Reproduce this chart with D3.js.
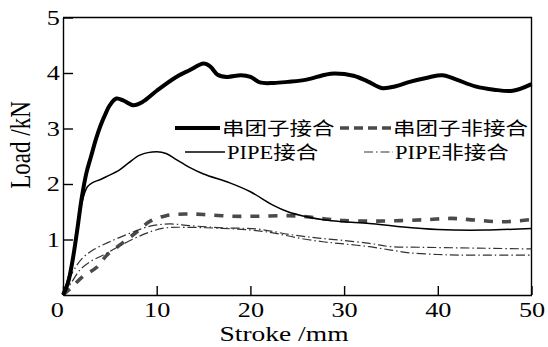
<!DOCTYPE html>
<html>
<head>
<meta charset="utf-8">
<script src="https://cdn.jsdelivr.net/npm/d3@7"></script>
<style>
  body { margin: 0; background: #fff; }
  svg text { font-family: "Liberation Serif", "Times New Roman", Times, "Noto Sans CJK SC", serif; fill: #000; }
</style>
</head>
<body>
<div id="chart"></div>
<script>
const WIDTH = 548, HEIGHT = 347;
const MARGINS = {top: 17.5, right: 16, bottom: 52, left: 63};
const STRETCH = 1.25; // the source picture is a bit wider than tall
const FONT = '"Liberation Serif", "Times New Roman", Times, "Noto Sans CJK SC", serif';

// x ticks / y ticks
const xTicks = [0, 10, 20, 30, 40, 50];
const yTicks = [1, 2, 3, 4, 5];

// 串团子接合 (thick solid)
const tuanJieX = [0, 0.5, 1, 1.5, 2, 2.5, 3, 3.5, 4, 4.5, 5, 5.7, 6.5, 7.5, 8.5, 10, 12, 13.5, 15, 15.7, 16.5, 17.5, 19, 20, 21, 22.5, 24, 26, 28, 29, 31, 32.5, 34, 35.5, 37, 39, 40.5, 42, 44, 46, 48, 50];
const tuanJieY = [0, 0.2, 0.6, 1.15, 1.75, 2.2, 2.5, 2.8, 3.05, 3.25, 3.42, 3.54, 3.5, 3.42, 3.48, 3.68, 3.92, 4.05, 4.17, 4.12, 3.97, 3.93, 3.96, 3.93, 3.83, 3.82, 3.84, 3.88, 3.97, 3.99, 3.95, 3.85, 3.73, 3.76, 3.84, 3.92, 3.96, 3.88, 3.76, 3.7, 3.68, 3.8];

// 串团子非接合 (thick dashed)
const tuanFeiX = [0, 1, 2.1, 3.6, 4.7, 6.3, 7.9, 9.3, 11, 13, 15, 18, 21, 24, 26, 28, 30, 33, 36, 39, 41.5, 44, 47, 50];
const tuanFeiY = [0, 0.15, 0.33, 0.5, 0.72, 0.93, 1.14, 1.33, 1.43, 1.46, 1.45, 1.42, 1.42, 1.43, 1.41, 1.37, 1.34, 1.33, 1.34, 1.36, 1.38, 1.35, 1.32, 1.36];

// PIPE接合 (thin solid)
const pipeJieX = [0, 1, 2, 2.6, 3.2, 4, 4.6, 6, 7, 8.2, 10, 11, 12, 13.5, 15, 17.8, 20, 22.4, 24, 26, 28, 30, 32.7, 36, 40, 45, 50];
const pipeJieY = [0, 0.6, 1.65, 1.95, 2.03, 2.08, 2.13, 2.25, 2.38, 2.52, 2.58, 2.55, 2.45, 2.3, 2.18, 2.02, 1.86, 1.62, 1.5, 1.41, 1.35, 1.32, 1.29, 1.23, 1.18, 1.17, 1.2];

// PIPE非接合 (dash-dot, two runs)
const pipeFeiX1 = [0, 1, 2, 3.2, 5, 7.1, 9.3, 11.4, 13.5, 17, 20.7, 24.2, 27, 29.5, 32.7, 35, 38, 42.3, 46, 50];
const pipeFeiY1 = [0, 0.4, 0.65, 0.81, 0.96, 1.11, 1.24, 1.28, 1.25, 1.21, 1.19, 1.09, 1.03, 0.99, 0.93, 0.87, 0.86, 0.85, 0.84, 0.83];
const pipeFeiX2 = [0, 1, 1.8, 2.9, 4.3, 7, 9.5, 11, 13, 17, 20, 22.4, 25, 27.7, 30, 32.7, 35, 37, 40, 42.3, 46, 50];
const pipeFeiY2 = [0, 0.25, 0.45, 0.6, 0.72, 0.97, 1.15, 1.21, 1.22, 1.2, 1.17, 1.12, 1.03, 0.96, 0.92, 0.87, 0.81, 0.76, 0.73, 0.72, 0.72, 0.72];

const legendLabels = ['串团子接合', '串团子非接合', 'PIPE接合', 'PIPE非接合'];

const styles = {
    tuanJie: {stroke: '#000', width: 4, dash: null},
    tuanFei: {stroke: '#4a4a4a', width: 3.6, dash: '9,9'},
    pipeJie: {stroke: '#000', width: 1.5, dash: null},
    pipeFei: {stroke: '#333', width: 1.2, dash: '9,3,1.5,3'}
};

const series = [
    {xs: tuanFeiX, ys: tuanFeiY, style: styles.tuanFei},
    {xs: pipeFeiX1, ys: pipeFeiY1, style: styles.pipeFei},
    {xs: pipeFeiX2, ys: pipeFeiY2, style: styles.pipeFei},
    {xs: pipeJieX, ys: pipeJieY, style: styles.pipeJie},
    {xs: tuanJieX, ys: tuanJieY, style: styles.tuanJie}
];

const xScale = d3.scaleLinear().domain([0, 50]).range([MARGINS.left, WIDTH - MARGINS.right - 0.5]);
const yScale = d3.scaleLinear().domain([0, 5]).range([HEIGHT - MARGINS.bottom, MARGINS.top]);

const svg = d3.select('#chart').append('svg')
    .attr('width', WIDTH)
    .attr('height', HEIGHT);

// frame: top and right border
svg.append('path')
    .attr('d', `M${xScale(0)},${yScale(5)}H${xScale(50)}V${yScale(0)}`)
    .attr('fill', 'none')
    .attr('stroke', '#000')
    .attr('stroke-width', 1.4);

// curves
const line = d3.line()
    .x(d => xScale(d[0]))
    .y(d => yScale(d[1]))
    .curve(d3.curveCatmullRom.alpha(0.5));

svg.selectAll('.curve')
    .data(series)
    .enter()
    .append('path')
    .classed('curve', true)
    .attr('d', s => line(s.xs.map((x, i) => [x, s.ys[i]])))
    .attr('fill', 'none')
    .attr('stroke', s => s.style.stroke)
    .attr('stroke-width', s => s.style.width)
    .attr('stroke-dasharray', s => s.style.dash)
    .attr('stroke-linejoin', 'round');

// axes, ticks pointing inward
const xAxis = d3.axisBottom(xScale)
    .tickValues(xTicks)
    .tickSizeInner(-9)
    .tickSizeOuter(0)
    .tickPadding(7)
    .tickFormat(d3.format('d'));
const yAxis = d3.axisLeft(yScale)
    .tickValues(yTicks)
    .tickSizeInner(-10)
    .tickSizeOuter(0)
    .tickPadding(2.5)
    .tickFormat(d3.format('d'));

const gx = svg.append('g')
    .attr('transform', `translate(0, ${yScale(0)})`)
    .call(xAxis);
const gy = svg.append('g')
    .attr('transform', `translate(${xScale(0)}, 0)`)
    .call(yAxis);

[gx, gy].forEach(g => {
    g.attr('font-family', null).attr('font-size', null);
    g.select('.domain').attr('stroke', '#000').attr('stroke-width', 1.4);
    g.selectAll('.tick line').attr('stroke', '#000').attr('stroke-width', 1.4);
    g.selectAll('.tick text')
        .attr('fill', '#000')
        .style('font-size', '21px')
        .style('font-family', FONT)
        .attr('transform', `scale(${STRETCH},1)`);
});
// the lone 0 under the corner sits a little left
gx.selectAll('.tick text').filter(d => d === 0).attr('x', -5);

// axis titles
svg.append('text')
    .attr('transform', `translate(284, 341) scale(${STRETCH},1)`)
    .attr('text-anchor', 'middle')
    .style('font-size', '22px')
    .style('font-family', FONT)
    .text('Stroke /mm');

svg.append('text')
    .attr('transform', `translate(30, 145) scale(${STRETCH},1) rotate(-90)`)
    .attr('text-anchor', 'middle')
    .style('font-size', '23px')
    .style('font-family', FONT)
    .text('Load /kN');

// legend
const legendItems = [
    {label: legendLabels[0], style: styles.tuanJie, x1: 175, x2: 220, tx: 222, y: 128},
    {label: legendLabels[1], style: styles.tuanFei, x1: 340, x2: 392, tx: 393, y: 128},
    {label: legendLabels[2], style: styles.pipeJie, x1: 185, x2: 225, tx: 227, y: 152},
    {label: legendLabels[3], style: styles.pipeFei, x1: 364, x2: 393, tx: 395, y: 152}
];

const legend = svg.append('g').classed('legend', true);
legend.selectAll('line')
    .data(legendItems)
    .enter()
    .append('line')
    .attr('x1', d => d.x1)
    .attr('x2', d => d.x2)
    .attr('y1', d => d.y)
    .attr('y2', d => d.y)
    .attr('stroke', d => d.style.stroke)
    .attr('stroke-width', d => d.style.width)
    .attr('stroke-dasharray', d => d.style.dash === '9,9' ? '9,5' : d.style.dash);

legend.selectAll('text')
    .data(legendItems)
    .enter()
    .append('text')
    .attr('transform', d => `translate(${d.tx}, ${d.y + 7}) scale(${STRETCH},1)`)
    .style('font-size', '18px')
    .style('font-family', FONT)
    .text(d => d.label);
</script>
</body>
</html>
